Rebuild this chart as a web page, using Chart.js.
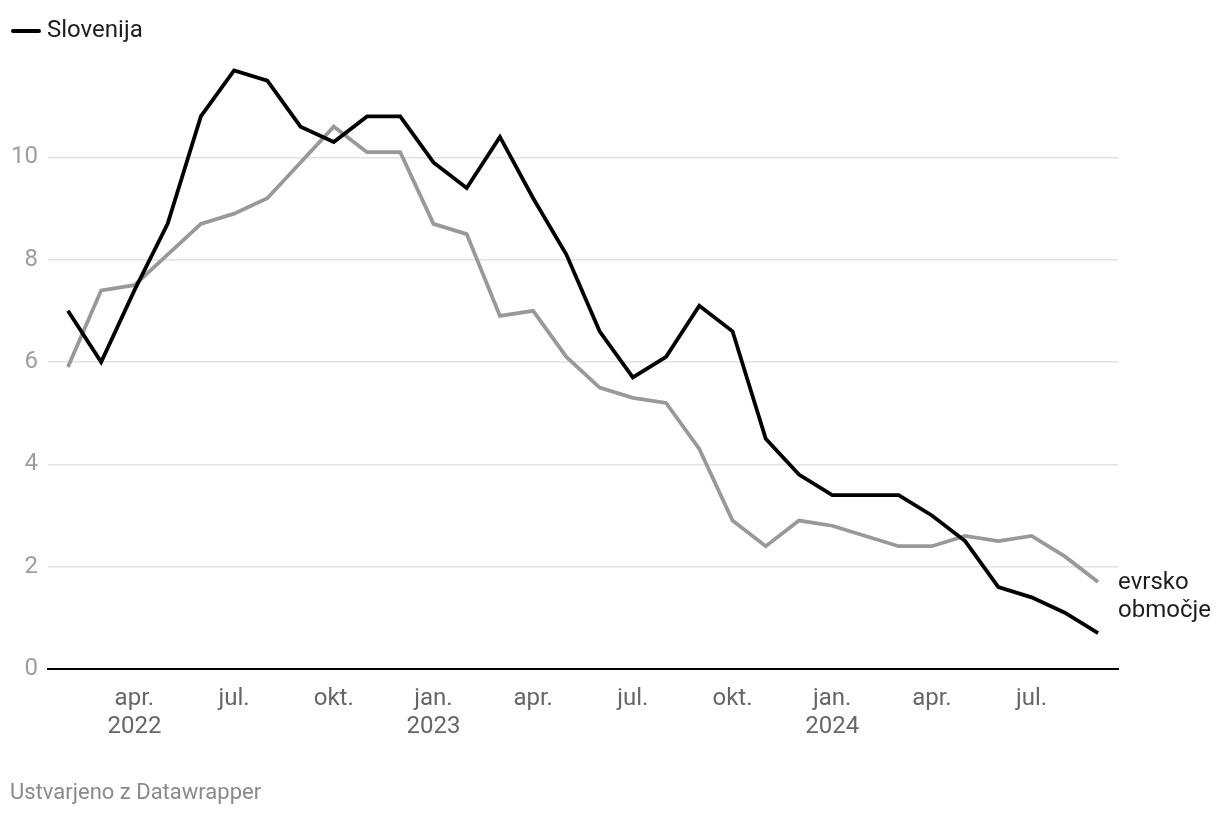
<!DOCTYPE html>
<html>
<head>
<meta charset="utf-8">
<script src="https://cdn.jsdelivr.net/npm/chart.js@4/dist/chart.umd.min.js"></script>
<style>
html,body{margin:0;padding:0;background:#fff;}
#wrap{position:relative;width:1220px;height:816px;}
canvas{display:block;}
</style>
</head>
<body>
<div id="wrap"><canvas id="c" width="1220" height="816"></canvas></div>
<script>
// Months Feb 2022 .. Sep 2024
const months = ["feb. 2022","mar. 2022","apr. 2022","maj 2022","jun. 2022","jul. 2022","avg. 2022","sep. 2022","okt. 2022","nov. 2022","dec. 2022",
  "jan. 2023","feb. 2023","mar. 2023","apr. 2023","maj 2023","jun. 2023","jul. 2023","avg. 2023","sep. 2023","okt. 2023","nov. 2023","dec. 2023",
  "jan. 2024","feb. 2024","mar. 2024","apr. 2024","maj 2024","jun. 2024","jul. 2024","avg. 2024","sep. 2024"];
const slovenija = [7.0,6.0,7.4,8.7,10.8,11.7,11.5,10.6,10.3,10.8,10.8,9.9,9.4,10.4,9.2,8.1,6.6,5.7,6.1,7.1,6.6,4.5,3.8,3.4,3.4,3.4,3.0,2.5,1.6,1.4,1.1,0.7];
const evrsko = [5.9,7.4,7.5,8.1,8.7,8.9,9.2,9.9,10.6,10.1,10.1,8.7,8.5,6.9,7.0,6.1,5.5,5.3,5.2,4.3,2.9,2.4,2.9,2.8,2.6,2.4,2.4,2.6,2.5,2.6,2.2,1.7];
const xTickIndex = [2,5,8,11,14,17,20,23,26,29];
const xTickLabels = [["apr.","2022"],["jul."],["okt."],["jan.","2023"],["apr."],["jul."],["okt."],["jan.","2024"],["apr."],["jul."]];
const yTicks = [0,2,4,6,8,10];
const legendLabel = "Slovenija";
const endLabel = ["evrsko","območje"];
const footer = "Ustvarjeno z Datawrapper";

const FONT = "Roboto, 'Noto Sans', sans-serif";

const overlay = {
  id: 'overlay',
  afterDraw(chart) {
    const ctx = chart.ctx;
    ctx.save();
    // legend
    ctx.strokeStyle = '#000';
    ctx.lineWidth = 4;
    ctx.lineCap = 'round';
    ctx.beginPath(); ctx.moveTo(13, 31); ctx.lineTo(39, 31); ctx.stroke();
    ctx.fillStyle = '#1d1d1d';
    ctx.font = "24px " + FONT;
    ctx.textBaseline = 'middle';
    ctx.textAlign = 'left';
    ctx.fillText(legendLabel, 47, 31);
    // end label for gray series
    const meta = chart.getDatasetMeta(1);
    const last = meta.data[meta.data.length - 1];
    ctx.fillText(endLabel[0], last.x + 20, last.y + 1);
    ctx.fillText(endLabel[1], last.x + 20, last.y + 29);
    // footer
    ctx.fillStyle = '#8a8a8a';
    ctx.font = "22px " + FONT;
    ctx.fillText(footer, 10, 793);
    ctx.restore();
  }
};

new Chart(document.getElementById('c'), {
  type: 'line',
  data: {
    datasets: [
      { label: 'Slovenija', data: slovenija.map((v,i)=>({x:i,y:v})), borderColor:'#000', borderWidth:3.8, pointRadius:0, tension:0, order:0 },
      { label: 'evrsko območje', data: evrsko.map((v,i)=>({x:i,y:v})), borderColor:'#999999', borderWidth:3.8, pointRadius:0, tension:0, order:1 }
    ]
  },
  options: {
    responsive: false,
    animation: false,
    devicePixelRatio: 1,
    layout: { padding: { top: 55, right: 102, bottom: 60, left: 0 } },
    plugins: { legend: { display: false }, tooltip: { enabled: false } },
    scales: {
      x: {
        type: 'linear', min: -0.6, max: 31.6,
        afterBuildTicks(scale) { scale.ticks = xTickIndex.map(v => ({ value: v })); },
        afterFit(scale) { scale.height = 87; },
        ticks: {
          autoSkip: false, maxRotation: 0, padding: 16,
          color: '#666', font: { family: FONT, size: 24, lineHeight: 1.17 },
          callback(value) { const k = xTickIndex.indexOf(value); return k >= 0 ? xTickLabels[k] : ''; }
        },
        grid: { display: false, drawTicks: false },
        border: { display: true, color: '#000', width: 2 }
      },
      y: {
        min: 0, max: 12,
        afterBuildTicks(scale) { scale.ticks = yTicks.map(v => ({ value: v })); },
        afterFit(scale) { scale.width = 48; },
        ticks: { padding: 10, color: '#9e9e9e', font: { family: FONT, size: 24 } },
        grid: { drawTicks: false, color: (c) => c.tick && c.tick.value === 0 ? 'rgba(0,0,0,0)' : '#e2e2e2', lineWidth: 1.5 },
        border: { display: false }
      }
    }
  },
  plugins: [overlay]
});
</script>
</body>
</html>
